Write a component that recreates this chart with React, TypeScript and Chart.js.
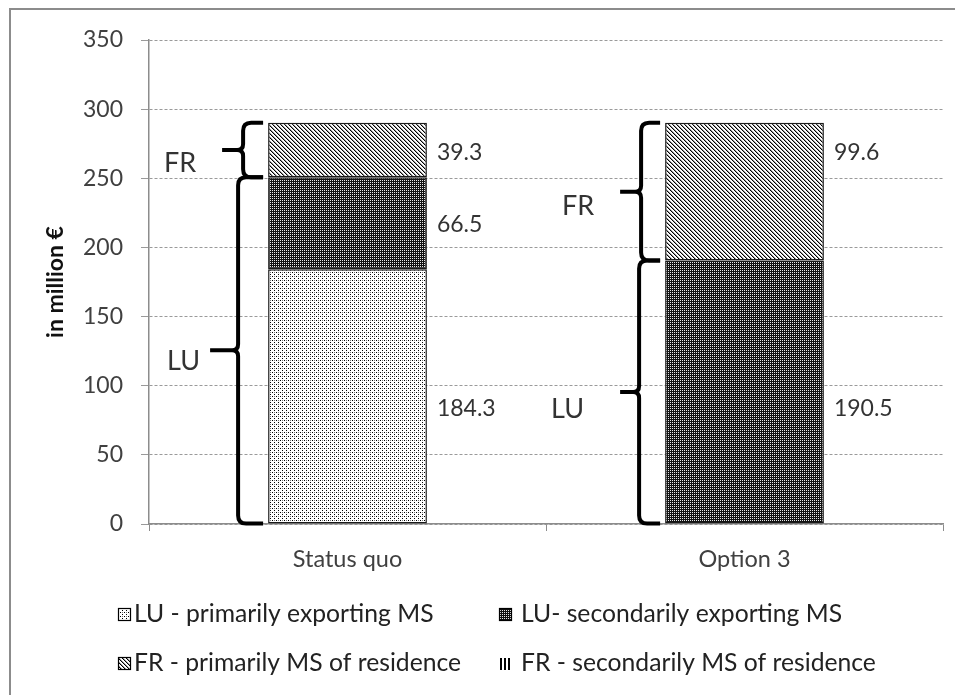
import { useEffect, useRef } from 'react';
import Chart from 'chart.js/auto';

// ---- data ----
const categories = ['Status quo', 'Option 3'];
const seriesNames = [
  'LU - primarily exporting MS',
  'LU- secondarily exporting MS',
  'FR - primarily MS of residence',
  'FR - secondarily MS of residence',
];
const luPrimary = [184.3, 0];
const luSecondary = [66.5, 190.5];
const frPrimary = [39.3, 99.6];
const frSecondary = [0, 0];
const yTicks = [0, 50, 100, 150, 200, 250, 300, 350];
const braceLabels = ['LU', 'FR'];
const braceMembers = [[0, 1], [2, 3]];

// ---- look ----
const FONT = 'Lato, "Open Sans", sans-serif';
const TEXT = '#404040';

// value label vertical nudge from segment middle, [category][dataset], px
const valueNudge = [
  [12, 1, 3, 0],
  [0, 17, -39, 0],
];
// brace geometry per [category][group]: stem gap from bar, tip depth, label gap, label drop
const braceGeom = [
  [
    { stem: 30, tip: 28, gap: 10, drop: 11 },
    { stem: 25, tip: 21, gap: 26, drop: 13 },
  ],
  [
    { stem: 26, tip: 19, gap: 36, drop: 17 },
    { stem: 24, tip: 21, gap: 26, drop: 15 },
  ],
];
// legend grid: column x and text gap; row y
const legendCols = [
  { x: 118, gap: 16 },
  { x: 499, gap: 22 },
];
const legendRows = [614, 663];

function tile(size: number, paint: (c: CanvasRenderingContext2D) => void) {
  const t = document.createElement('canvas');
  t.width = size;
  t.height = size;
  const c = t.getContext('2d')!;
  c.fillStyle = '#fff';
  c.fillRect(0, 0, size, size);
  paint(c);
  return t;
}

function makePatterns(ctx: CanvasRenderingContext2D) {
  const lightDots = tile(4, (c) => {
    c.fillStyle = '#000';
    c.fillRect(0, 0, 1, 1);
    c.fillRect(2, 2, 1, 1);
    c.fillStyle = '#777';
    c.fillRect(2, 0, 1, 1);
  });
  const darkDots = tile(2, (c) => {
    c.fillStyle = '#111';
    c.fillRect(0, 0, 2, 2);
    c.fillStyle = '#e8e8e8';
    c.fillRect(0, 0, 1, 1);
  });
  const diag = tile(4, (c) => {
    for (let y = 0; y < 4; y++) {
      for (let x = 0; x < 4; x++) {
        const k = (x - y + 8) % 4;
        if (k === 0) {
          c.fillStyle = '#000';
          c.fillRect(x, y, 1, 1);
        } else if (k === 1) {
          c.fillStyle = '#9a9a9a';
          c.fillRect(x, y, 1, 1);
        }
      }
    }
  });
  const vert = tile(4, (c) => {
    c.fillStyle = '#000';
    c.fillRect(0, 0, 2, 4);
  });
  return [lightDots, darkDots, diag, vert].map((t) => ctx.createPattern(t, 'repeat')!);
}

function drawBrace(
  ctx: CanvasRenderingContext2D,
  xEnd: number,
  xStem: number,
  xTip: number,
  y0: number,
  y1: number
) {
  const r = 8;
  const rt = 6;
  const ym = (y0 + y1) / 2;
  ctx.beginPath();
  ctx.moveTo(xEnd, y0);
  ctx.lineTo(xStem + r, y0);
  ctx.quadraticCurveTo(xStem, y0, xStem, y0 + r);
  ctx.lineTo(xStem, ym - rt);
  ctx.quadraticCurveTo(xStem, ym, xStem - rt, ym);
  ctx.lineTo(xTip, ym);
  ctx.moveTo(xStem - rt, ym);
  ctx.quadraticCurveTo(xStem, ym, xStem, ym + rt);
  ctx.lineTo(xStem, y1 - r);
  ctx.quadraticCurveTo(xStem, y1, xStem + r, y1);
  ctx.lineTo(xEnd, y1);
  ctx.stroke();
}

export default function App() {
  const ref = useRef<HTMLCanvasElement>(null);

  useEffect(() => {
    const canvas = ref.current!;
    const ctx0 = canvas.getContext('2d')!;
    const patterns = makePatterns(ctx0);
    const values = [luPrimary, luSecondary, frPrimary, frSecondary];

    const decor = {
      id: 'decor',
      beforeDraw(chart: any) {
        const { ctx, width, height } = chart;
        ctx.save();
        ctx.fillStyle = '#fff';
        ctx.fillRect(0, 0, width, height);
        ctx.fillStyle = '#8c8c8c';
        ctx.fillRect(9, 8, 2, height - 8);
        ctx.fillRect(9, 8, width - 9, 2);
        ctx.restore();
      },
      afterDatasetsDraw(chart: any) {
        const { ctx } = chart;
        ctx.save();
        // value labels
        ctx.font = `23px ${FONT}`;
        ctx.fillStyle = '#333';
        ctx.textAlign = 'left';
        ctx.textBaseline = 'middle';
        values.forEach((series, di) => {
          const meta = chart.getDatasetMeta(di);
          series.forEach((v, ci) => {
            if (!v) return;
            const el = meta.data[ci];
            const right = el.x + el.width / 2;
            const mid = (el.y + el.base) / 2 + valueNudge[ci][di];
            ctx.fillText(v.toFixed(1), right + 10, mid);
          });
        });
        // braces
        ctx.strokeStyle = '#000';
        ctx.lineWidth = 4;
        ctx.lineJoin = 'round';
        ctx.lineCap = 'butt';
        categories.forEach((_, ci) => {
          braceMembers.forEach((members, gi) => {
            let top = Infinity;
            let bottom = -Infinity;
            let left = 0;
            members.forEach((di) => {
              if (!values[di][ci]) return;
              const el = chart.getDatasetMeta(di).data[ci];
              top = Math.min(top, el.y);
              bottom = Math.max(bottom, el.base);
              left = el.x - el.width / 2;
            });
            if (!isFinite(top)) return;
            const g = braceGeom[ci][gi];
            const xStem = left - g.stem;
            const xTip = xStem - g.tip;
            drawBrace(ctx, left - 5, xStem, xTip, top, bottom);
            ctx.save();
            ctx.font = `27px ${FONT}`;
            ctx.fillStyle = '#333';
            ctx.textAlign = 'right';
            ctx.textBaseline = 'middle';
            ctx.fillText(braceLabels[gi], xTip - g.gap, (top + bottom) / 2 + g.drop);
            ctx.restore();
          });
        });
        ctx.restore();
      },
      afterDraw(chart: any) {
        const { ctx } = chart;
        ctx.save();
        ctx.font = `24.7px ${FONT}`;
        ctx.textAlign = 'left';
        ctx.textBaseline = 'middle';
        seriesNames.forEach((name, i) => {
          const col = legendCols[i % 2];
          const x = col.x;
          const y = legendRows[Math.floor(i / 2)];
          if (i < 3) {
            ctx.fillStyle = patterns[i];
            ctx.fillRect(x, y - 6, 13, 13);
            ctx.strokeStyle = '#000';
            ctx.lineWidth = 1.2;
            ctx.strokeRect(x + 0.5, y - 5.5, 12, 12);
          } else {
            ctx.fillStyle = '#000';
            for (let k = 0; k < 3; k++) ctx.fillRect(x + 1 + k * 4, y - 5, 2, 12);
          }
          ctx.fillStyle = '#222';
          ctx.fillText(name, x + col.gap, y);
        });
        ctx.restore();
      },
    };

    const chart = new Chart(canvas, {
      type: 'bar',
      data: {
        labels: categories,
        datasets: values.map((data, i) => ({
          label: seriesNames[i],
          data,
          backgroundColor: patterns[i],
          borderColor: '#1a1a1a',
          borderWidth: 1.5,
          borderSkipped: false,
          categoryPercentage: 0.8,
          barPercentage: 0.5,
        })),
      },
      options: {
        responsive: false,
        animation: false,
        events: [],
        layout: { padding: { left: 0, top: 40, right: 12, bottom: 111 } },
        plugins: {
          legend: { display: false },
          tooltip: { enabled: false },
        },
        scales: {
          x: {
            stacked: true,
            grid: {
              display: true,
              drawOnChartArea: false,
              drawTicks: true,
              tickLength: 7,
              offset: true,
              tickColor: '#8c8c8c',
            },
            border: { display: true, color: '#8c8c8c', width: 1.5 },
            ticks: { font: { family: FONT, size: 23.5 }, color: TEXT, padding: 14 },
            afterFit: (s: any) => {
              s.height = 60;
            },
          },
          y: {
            stacked: true,
            min: yTicks[0],
            max: yTicks[yTicks.length - 1],
            ticks: {
              stepSize: yTicks[1] - yTicks[0],
              font: { family: FONT, size: 23 },
              color: TEXT,
              padding: 18,
            },
            grid: {
              color: '#9a9a9a',
              lineWidth: 1,
              tickLength: 8,
              tickColor: '#9a9a9a',
            },
            border: { display: true, color: '#8c8c8c', width: 1.5, dash: [3, 2] },
            title: {
              display: true,
              text: 'in million €',
              font: { family: FONT, size: 23, weight: 'bold' },
              color: '#111',
              padding: { top: 42, bottom: 0 },
            },
            afterFit: (s: any) => {
              s.width = 149;
            },
          },
        },
      },
      plugins: [decor],
    });

    return () => chart.destroy();
  }, []);

  return (
    <div style={{ position: 'absolute', left: 0, top: 0, width: 955, height: 695 }}>
      <canvas ref={ref} width={955} height={695} style={{ display: 'block' }} />
    </div>
  );
}
